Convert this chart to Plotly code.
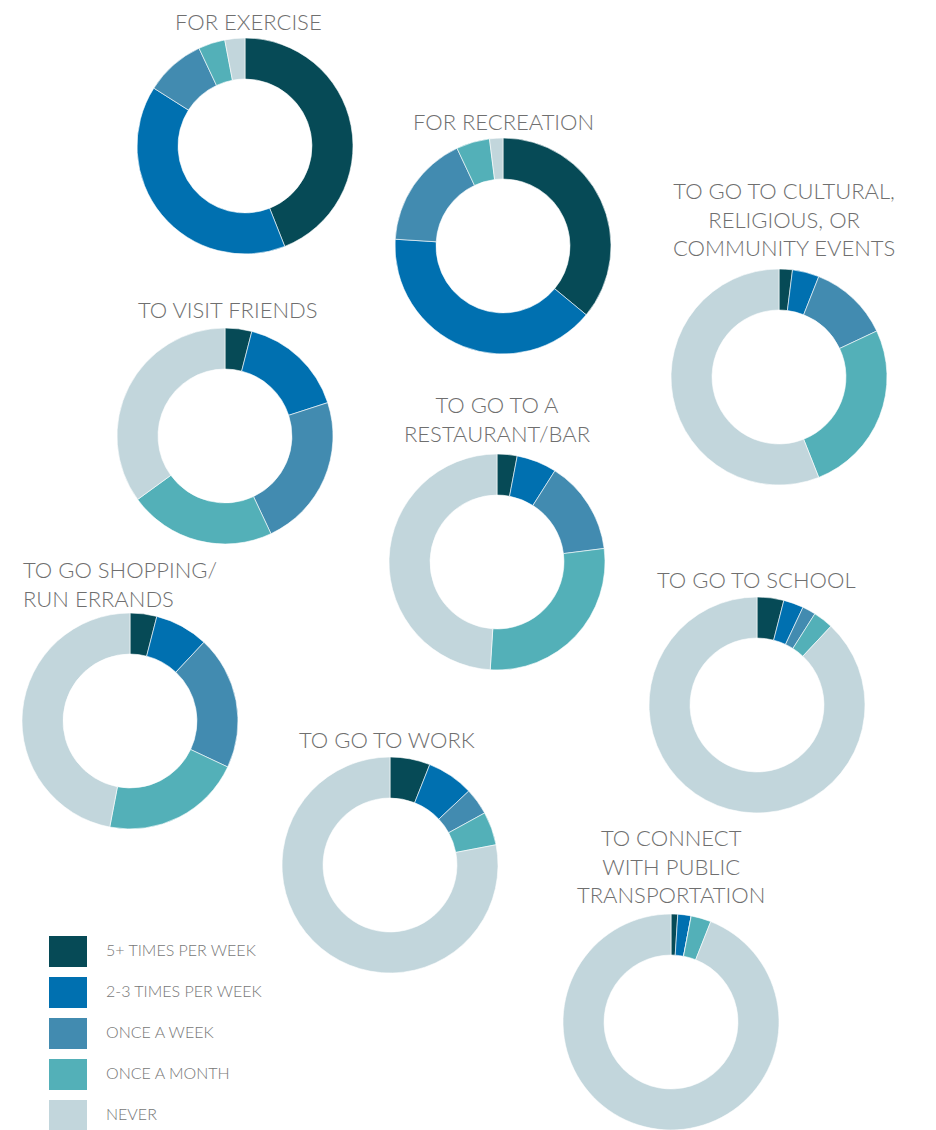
import plotly.graph_objects as go

# ---- data ----
categories = ["5+ TIMES PER WEEK", "2-3 TIMES PER WEEK", "ONCE A WEEK", "ONCE A MONTH", "NEVER"]

exercise = [44, 40, 9, 4, 3]
recreation = [36, 40, 17, 5, 2]
cultural = [2, 4, 12, 26, 56]
friends = [4, 16, 23, 22, 35]
restaurant = [3, 6, 14, 28, 49]
shopping = [4, 8, 20, 21, 47]
school = [4, 3, 2, 3, 88]
work = [6, 7, 4, 5, 78]
transit = [1, 2, 0, 3, 94]

titles = [
    ["FOR EXERCISE"],
    ["FOR RECREATION"],
    ["TO GO TO CULTURAL,", "RELIGIOUS, OR", "COMMUNITY EVENTS"],
    ["TO VISIT FRIENDS"],
    ["TO GO TO A", "RESTAURANT/BAR"],
    ["TO GO SHOPPING/", "RUN ERRANDS"],
    ["TO GO TO SCHOOL"],
    ["TO GO TO WORK"],
    ["TO CONNECT", "WITH PUBLIC", "TRANSPORTATION"],
]
series = [exercise, recreation, cultural, friends, restaurant, shopping, school, work, transit]

# ---- styles / layout ----
OFF = 8  # page body margin
W, H = 936 - OFF, 1130 - OFF
R = 108
colors = ["#064A56", "#0070B0", "#428BB0", "#53B0B8", "#C2D6DC"]
# donut centers (page px)
centers = [(245, 146), (503, 246), (779, 377), (225, 436), (497, 562),
           (130, 721), (757, 705), (390, 865), (671, 1022)]
# title: (x px, vertical middle of the block in px, anchor)
title_pos = [(248, 21, "center"), (503, 122, "center"), (784, 219, "center"),
             (228, 309, "center"), (497, 418.5, "center"), (21, 583.5, "left"),
             (756, 579, "center"), (387, 739, "center"), (671, 866, "center")]
title_color = "#6f6f6f"
font_family = "Lato, 'Open Sans', sans-serif"


def px(x):
    return (x - OFF) / W


def py(y):
    return 1 - (y - OFF) / H


fig = go.Figure()
for vals, (cx, cy) in zip(series, centers):
    fig.add_trace(go.Pie(
        labels=categories, values=vals, sort=False, direction="clockwise",
        rotation=0, hole=0.62, textinfo="none", hoverinfo="label+percent",
        marker=dict(colors=colors, line=dict(color="white", width=0.6)),
        domain=dict(x=[max(0, px(cx - R)), min(1, px(cx + R))],
                    y=[max(0, py(cy + R)), min(1, py(cy - R))]),
        showlegend=False,
    ))

annotations = []
for lines, (tx, ty, anc) in zip(titles, title_pos):
    annotations.append(dict(
        text="<br>".join(lines), x=px(tx), y=py(ty),
        xref="paper", yref="paper", xanchor=anc, yanchor="middle", align=anc,
        showarrow=False,
        font=dict(family=font_family, size=22, weight=300, color=title_color),
    ))

shapes = []
leg_x0, leg_y0, leg_w, leg_h, leg_gap = 49, 936, 38, 31, 41
for i, (cat, col) in enumerate(zip(categories, colors)):
    y0 = leg_y0 + i * leg_gap
    shapes.append(dict(type="rect", xref="paper", yref="paper",
                       x0=px(leg_x0), x1=px(leg_x0 + leg_w),
                       y0=py(y0 + leg_h), y1=py(y0),
                       fillcolor=col, line=dict(width=0)))
    annotations.append(dict(
        text=cat, x=px(104), y=py(y0 + leg_h / 2 - 2),
        xref="paper", yref="paper", xanchor="left", yanchor="middle",
        showarrow=False,
        font=dict(family=font_family, size=16, weight=300, color="#777777"),
    ))

fig.update_layout(
    width=W, height=H, margin=dict(l=0, r=0, t=0, b=0),
    paper_bgcolor="white", plot_bgcolor="white",
    annotations=annotations, shapes=shapes,
)

fig.write_html("out.html")
